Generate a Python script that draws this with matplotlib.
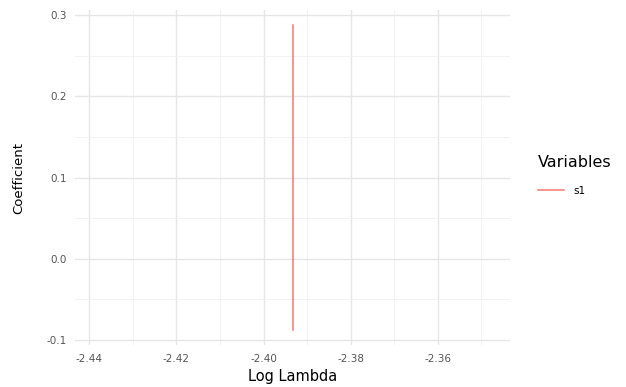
import numpy as np
import matplotlib.pyplot as plt
from matplotlib.ticker import MultipleLocator

# coefficient path (only one lambda value)
log_lambda = [-2.3933, -2.3933]
coef_s1 = [-0.088, 0.288]
var_names = ["s1"]

fig = plt.figure(figsize=(6.26, 3.87), dpi=100)
ax = fig.add_axes([0.12, 0.108, 0.695, 0.866])

ax.plot(log_lambda, coef_s1, color="#F8766D", lw=1.1, label=var_names[0])

ax.set_xlim(-2.3933 - 0.05, -2.3933 + 0.05)
ax.set_ylim(-0.1064, 0.3064)
ax.xaxis.set_major_locator(MultipleLocator(0.02))
ax.xaxis.set_minor_locator(MultipleLocator(0.01))
ax.yaxis.set_major_locator(MultipleLocator(0.1))
ax.yaxis.set_minor_locator(MultipleLocator(0.05))
ax.xaxis.set_major_formatter(plt.FuncFormatter(lambda v, p: f"{v:.2f}"))
ax.yaxis.set_major_formatter(plt.FuncFormatter(lambda v, p: f"{v:.1f}"))

ax.grid(which="major", color="#E6E6E6", lw=1.0)
ax.grid(which="minor", color="#F0F0F0", lw=0.6)
ax.set_axisbelow(True)
for s in ax.spines.values():
    s.set_visible(False)
ax.tick_params(which="both", length=0, labelsize=7.5, labelcolor="#555555", pad=6)

ax.set_xlabel("Log Lambda", fontsize=10.5, labelpad=4)
ax.set_ylabel("Coefficient", fontsize=9.5, labelpad=15)

leg = fig.legend(title="Variables", loc="upper left",
                 bbox_to_anchor=(538 / 626, 1 - 155 / 387),
                 frameon=False, fontsize=7.5, title_fontsize=11.5,
                 handlelength=2.5, handletextpad=0.9, borderpad=0,
                 borderaxespad=0, labelspacing=1.5, alignment="left")

fig.savefig("out.png", dpi=100, facecolor="white")
